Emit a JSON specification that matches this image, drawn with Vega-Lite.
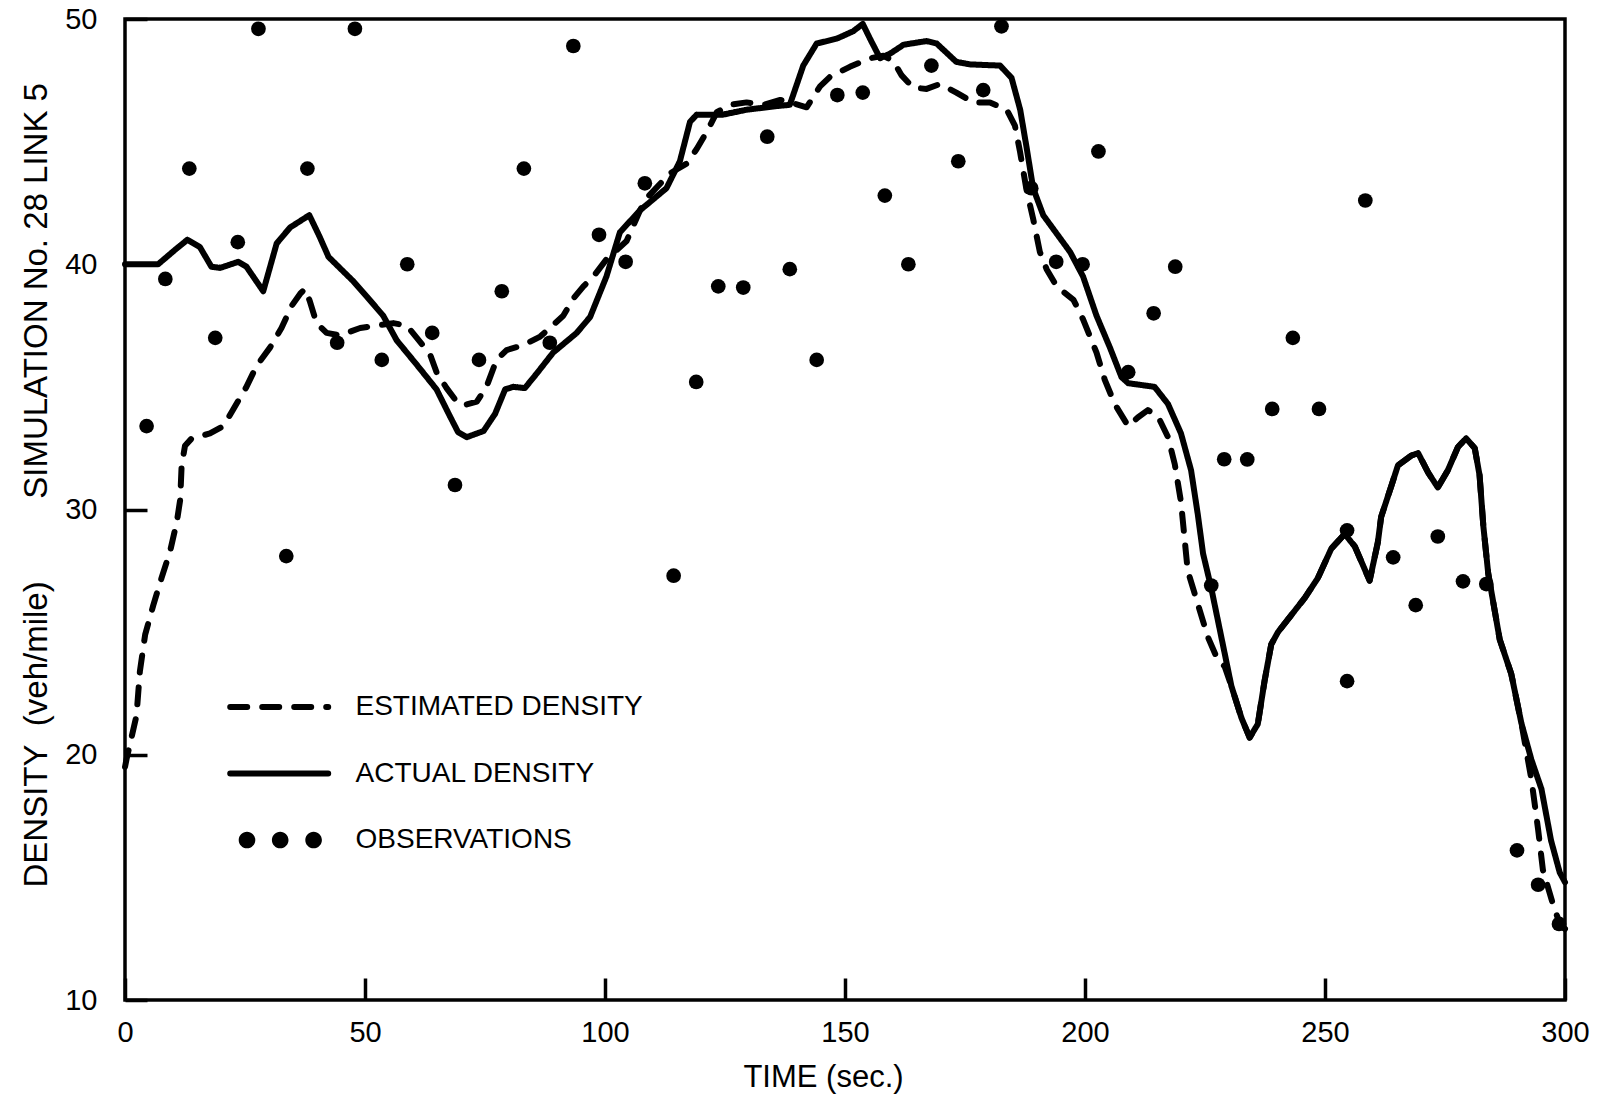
{
  "$schema": "https://vega.github.io/schema/vega-lite/v6.json",
  "width": 1440,
  "height": 981,
  "autosize": {"type": "none"},
  "padding": {"left": 125, "top": 19, "right": 33, "bottom": 96},
  "background": "white",
  "config": {
    "view": {"stroke": "black", "strokeWidth": 3.5},
    "font": "Liberation Sans",
    "axis": {
      "domain": false,
      "grid": false,
      "ticks": true,
      "tickSize": -22,
      "tickWidth": 3.5,
      "tickColor": "black",
      "labelColor": "black",
      "labelFont": "Liberation Sans",
      "labelFontSize": 29,
      "labelFlush": false,
      "labelOverlap": false,
      "titleColor": "black",
      "titleFont": "Liberation Sans",
      "titleFontWeight": "normal"
    }
  },
  "datasets": {
    "estimated": [
      {"t": 0, "v": 19.5}, {"t": 0.3, "v": 19.8}, {"t": 2.4, "v": 21.6}, {"t": 3.1, "v": 23.4}, {"t": 4.2, "v": 24.9},
      {"t": 5.9, "v": 26.1}, {"t": 7.6, "v": 27.2}, {"t": 9.4, "v": 28.3}, {"t": 10.8, "v": 29.5}, {"t": 11.5, "v": 30.4},
      {"t": 11.8, "v": 31.8}, {"t": 12.5, "v": 32.6}, {"t": 13.9, "v": 32.9}, {"t": 17.7, "v": 33.1}, {"t": 20.5, "v": 33.4},
      {"t": 22.6, "v": 34.1}, {"t": 25.3, "v": 35.0}, {"t": 27.4, "v": 35.85}, {"t": 30.2, "v": 36.6}, {"t": 32.6, "v": 37.4},
      {"t": 34.7, "v": 38.3}, {"t": 36.5, "v": 38.8}, {"t": 37.5, "v": 39.0}, {"t": 38.5, "v": 38.5}, {"t": 39.9, "v": 37.6},
      {"t": 42.0, "v": 37.2}, {"t": 44.8, "v": 37.1}, {"t": 49.0, "v": 37.4}, {"t": 52.4, "v": 37.5}, {"t": 55.9, "v": 37.6},
      {"t": 58.7, "v": 37.5}, {"t": 60.8, "v": 37.0}, {"t": 63.5, "v": 36.35}, {"t": 64.9, "v": 35.6}, {"t": 67.0, "v": 34.95},
      {"t": 69.1, "v": 34.4}, {"t": 70.5, "v": 34.25}, {"t": 73.3, "v": 34.4}, {"t": 75.3, "v": 35.0}, {"t": 77.4, "v": 36.1},
      {"t": 79.5, "v": 36.5}, {"t": 83.0, "v": 36.7}, {"t": 86.5, "v": 37.05}, {"t": 88.5, "v": 37.4}, {"t": 91.3, "v": 37.9},
      {"t": 93.4, "v": 38.6}, {"t": 95.5, "v": 39.1}, {"t": 97.6, "v": 39.5}, {"t": 100.3, "v": 40.2}, {"t": 104.5, "v": 40.95},
      {"t": 107.3, "v": 42.2}, {"t": 108.7, "v": 42.7}, {"t": 113.5, "v": 43.7}, {"t": 117.0, "v": 44.1}, {"t": 119.1, "v": 44.7},
      {"t": 121.2, "v": 45.4}, {"t": 123.3, "v": 46.2}, {"t": 126.0, "v": 46.5}, {"t": 129.5, "v": 46.6}, {"t": 133.0, "v": 46.5},
      {"t": 136.5, "v": 46.7}, {"t": 138.5, "v": 46.6}, {"t": 142.0, "v": 46.4}, {"t": 144.8, "v": 47.25}, {"t": 146.9, "v": 47.65},
      {"t": 151.0, "v": 48.05}, {"t": 155.2, "v": 48.4}, {"t": 158.0, "v": 48.5}, {"t": 160.0, "v": 48.3}, {"t": 161.8, "v": 47.7},
      {"t": 164.2, "v": 47.2}, {"t": 167.0, "v": 47.15}, {"t": 169.8, "v": 47.35}, {"t": 173.2, "v": 47.0}, {"t": 176.7, "v": 46.6},
      {"t": 180.2, "v": 46.6}, {"t": 183.7, "v": 46.3}, {"t": 185.4, "v": 45.65}, {"t": 186.5, "v": 44.55}, {"t": 187.8, "v": 43.05},
      {"t": 189.2, "v": 41.85}, {"t": 190.6, "v": 40.5}, {"t": 192.0, "v": 39.8}, {"t": 194.1, "v": 39.1}, {"t": 197.6, "v": 38.55},
      {"t": 199.6, "v": 37.75}, {"t": 202.4, "v": 36.4}, {"t": 204.1, "v": 35.3}, {"t": 206.2, "v": 34.3}, {"t": 209.0, "v": 33.4},
      {"t": 211.0, "v": 33.75}, {"t": 213.1, "v": 34.05}, {"t": 215.2, "v": 33.8}, {"t": 217.3, "v": 32.95}, {"t": 218.7, "v": 31.85},
      {"t": 220.0, "v": 30.3}, {"t": 221.4, "v": 27.5}, {"t": 223.5, "v": 26.15}, {"t": 225.6, "v": 24.8}, {"t": 227.7, "v": 23.85},
      {"t": 229.1, "v": 23.6}, {"t": 230.5, "v": 22.8}, {"t": 232.6, "v": 21.5}, {"t": 234.3, "v": 20.7}, {"t": 236.0, "v": 21.25},
      {"t": 237.4, "v": 23.0}, {"t": 238.8, "v": 24.5}, {"t": 240.2, "v": 25.0}, {"t": 245.8, "v": 26.4}, {"t": 248.5, "v": 27.2},
      {"t": 251.3, "v": 28.4}, {"t": 254.1, "v": 29.0}, {"t": 256.2, "v": 28.5}, {"t": 259.3, "v": 27.1}, {"t": 261.0, "v": 28.65},
      {"t": 261.7, "v": 29.7}, {"t": 263.8, "v": 30.95}, {"t": 265.2, "v": 31.8}, {"t": 268.0, "v": 32.2}, {"t": 269.4, "v": 32.3},
      {"t": 271.5, "v": 31.5}, {"t": 273.5, "v": 30.9}, {"t": 275.6, "v": 31.6}, {"t": 277.7, "v": 32.55}, {"t": 279.4, "v": 32.9},
      {"t": 281.2, "v": 32.5}, {"t": 282.2, "v": 31.4}, {"t": 283.0, "v": 29.3}, {"t": 284.0, "v": 27.4}, {"t": 286.4, "v": 24.7},
      {"t": 288.8, "v": 23.3}, {"t": 290.9, "v": 21.3}, {"t": 293.0, "v": 19.0}, {"t": 294.4, "v": 16.95}, {"t": 295.4, "v": 15.3},
      {"t": 297.8, "v": 13.7}, {"t": 299.2, "v": 13.0}, {"t": 300, "v": 12.9}
    ],
    "actual": [
      {"t": 0, "v": 40.0}, {"t": 6.9, "v": 40.0}, {"t": 10.5, "v": 40.6}, {"t": 13.0, "v": 41.0}, {"t": 15.6, "v": 40.7},
      {"t": 18.0, "v": 39.9}, {"t": 19.8, "v": 39.85}, {"t": 23.6, "v": 40.1}, {"t": 25.3, "v": 39.9}, {"t": 28.8, "v": 38.9},
      {"t": 31.6, "v": 40.85}, {"t": 34.4, "v": 41.5}, {"t": 38.4, "v": 42.0}, {"t": 40.6, "v": 41.1}, {"t": 42.4, "v": 40.3},
      {"t": 47.6, "v": 39.3}, {"t": 50.3, "v": 38.7}, {"t": 53.8, "v": 37.9}, {"t": 56.6, "v": 36.9}, {"t": 60.8, "v": 35.9},
      {"t": 64.9, "v": 34.9}, {"t": 67.7, "v": 33.8}, {"t": 69.4, "v": 33.15}, {"t": 71.2, "v": 32.95}, {"t": 74.7, "v": 33.2},
      {"t": 77.1, "v": 33.9}, {"t": 79.2, "v": 34.9}, {"t": 80.9, "v": 35.0}, {"t": 83.3, "v": 34.95}, {"t": 85.8, "v": 35.55},
      {"t": 89.2, "v": 36.4}, {"t": 94.1, "v": 37.2}, {"t": 96.9, "v": 37.85}, {"t": 100.3, "v": 39.5}, {"t": 103.1, "v": 41.3},
      {"t": 107.3, "v": 42.2}, {"t": 112.8, "v": 43.1}, {"t": 115.6, "v": 44.2}, {"t": 117.7, "v": 45.8}, {"t": 119.1, "v": 46.1},
      {"t": 124.6, "v": 46.1}, {"t": 129.5, "v": 46.3}, {"t": 135.8, "v": 46.45}, {"t": 138.5, "v": 46.5}, {"t": 141.3, "v": 48.1},
      {"t": 144.1, "v": 49.0}, {"t": 148.3, "v": 49.2}, {"t": 151.7, "v": 49.5}, {"t": 153.7, "v": 49.8}, {"t": 155.2, "v": 49.2},
      {"t": 157.3, "v": 48.4}, {"t": 159.5, "v": 48.6}, {"t": 162.2, "v": 48.95}, {"t": 167.0, "v": 49.1}, {"t": 169.1, "v": 49.0},
      {"t": 173.2, "v": 48.25}, {"t": 176.0, "v": 48.15}, {"t": 182.3, "v": 48.1}, {"t": 184.7, "v": 47.6}, {"t": 186.5, "v": 46.3},
      {"t": 187.8, "v": 44.8}, {"t": 189.2, "v": 43.1}, {"t": 191.3, "v": 42.0}, {"t": 196.9, "v": 40.5}, {"t": 199.6, "v": 39.5},
      {"t": 202.4, "v": 37.9}, {"t": 205.2, "v": 36.6}, {"t": 207.6, "v": 35.4}, {"t": 209.0, "v": 35.15}, {"t": 214.5, "v": 35.0},
      {"t": 217.3, "v": 34.3}, {"t": 220.0, "v": 33.1}, {"t": 222.1, "v": 31.6}, {"t": 223.5, "v": 29.8}, {"t": 224.6, "v": 28.2},
      {"t": 226.3, "v": 26.8}, {"t": 228.4, "v": 24.8}, {"t": 230.5, "v": 22.8}, {"t": 232.6, "v": 21.5}, {"t": 234.3, "v": 20.7},
      {"t": 236.0, "v": 21.25}, {"t": 237.4, "v": 23.0}, {"t": 238.8, "v": 24.5}, {"t": 240.2, "v": 25.0}, {"t": 245.8, "v": 26.4},
      {"t": 248.5, "v": 27.2}, {"t": 251.3, "v": 28.4}, {"t": 254.1, "v": 29.0}, {"t": 256.2, "v": 28.5}, {"t": 259.3, "v": 27.1},
      {"t": 261.0, "v": 28.65}, {"t": 261.7, "v": 29.7}, {"t": 263.8, "v": 30.95}, {"t": 265.2, "v": 31.8}, {"t": 268.0, "v": 32.2},
      {"t": 269.4, "v": 32.3}, {"t": 271.5, "v": 31.5}, {"t": 273.5, "v": 30.9}, {"t": 275.6, "v": 31.6}, {"t": 277.7, "v": 32.55},
      {"t": 279.4, "v": 32.9}, {"t": 281.2, "v": 32.5}, {"t": 282.2, "v": 31.4}, {"t": 283.0, "v": 29.3}, {"t": 284.0, "v": 27.4},
      {"t": 286.4, "v": 24.7}, {"t": 288.8, "v": 23.3}, {"t": 290.9, "v": 21.3}, {"t": 293.0, "v": 19.8}, {"t": 295.1, "v": 18.6},
      {"t": 297.1, "v": 16.5}, {"t": 298.9, "v": 15.2}, {"t": 300, "v": 14.8}
    ],
    "obs": [
      {"t": 4.5, "v": 33.4}, {"t": 8.4, "v": 39.4}, {"t": 13.4, "v": 43.9}, {"t": 18.8, "v": 37.0}, {"t": 23.5, "v": 40.9},
      {"t": 27.8, "v": 49.6}, {"t": 33.6, "v": 28.1}, {"t": 38.0, "v": 43.9}, {"t": 44.2, "v": 36.8}, {"t": 47.9, "v": 49.6},
      {"t": 53.5, "v": 36.1}, {"t": 58.8, "v": 40.0}, {"t": 64.0, "v": 37.2}, {"t": 68.75, "v": 31.0}, {"t": 73.75, "v": 36.1},
      {"t": 78.5, "v": 38.9}, {"t": 83.1, "v": 43.9}, {"t": 88.5, "v": 36.8}, {"t": 93.4, "v": 48.9}, {"t": 98.75, "v": 41.2},
      {"t": 104.3, "v": 40.1}, {"t": 108.3, "v": 43.3}, {"t": 114.3, "v": 27.3}, {"t": 119.0, "v": 35.2}, {"t": 123.6, "v": 39.1},
      {"t": 128.8, "v": 39.05}, {"t": 133.8, "v": 45.2}, {"t": 138.5, "v": 39.8}, {"t": 144.1, "v": 36.1}, {"t": 148.4, "v": 46.9},
      {"t": 153.7, "v": 47.0}, {"t": 158.3, "v": 42.8}, {"t": 163.2, "v": 40.0}, {"t": 168.0, "v": 48.1}, {"t": 173.6, "v": 44.2},
      {"t": 178.8, "v": 47.1}, {"t": 182.6, "v": 49.7}, {"t": 188.8, "v": 43.1}, {"t": 194.0, "v": 40.1}, {"t": 199.5, "v": 40.0},
      {"t": 202.8, "v": 44.6}, {"t": 209.0, "v": 35.6}, {"t": 214.3, "v": 38.0}, {"t": 218.8, "v": 39.9}, {"t": 226.3, "v": 26.9},
      {"t": 229.0, "v": 32.05}, {"t": 233.8, "v": 32.04}, {"t": 239.0, "v": 34.1}, {"t": 243.3, "v": 37.0}, {"t": 248.75, "v": 34.1},
      {"t": 254.6, "v": 29.15}, {"t": 254.6, "v": 23.0}, {"t": 258.4, "v": 42.6}, {"t": 264.2, "v": 28.05}, {"t": 268.9, "v": 26.1},
      {"t": 273.5, "v": 28.9}, {"t": 278.75, "v": 27.07}, {"t": 283.6, "v": 26.96}, {"t": 290.0, "v": 16.1}, {"t": 294.4, "v": 14.7},
      {"t": 298.75, "v": 13.1}
    ]
  },
  "layer": [
    {
      "data": {"name": "estimated"},
      "mark": {"type": "line", "color": "black", "strokeWidth": 6, "strokeCap": "round", "strokeJoin": "round"},
      "encoding": {
        "x": {
          "field": "t", "type": "quantitative",
          "scale": {"domain": [0, 300], "nice": false, "zero": false},
          "axis": {
            "values": [0, 50, 100, 150, 200, 250, 300],
            "format": "d",
            "labelPadding": 40,
            "title": "TIME (sec.)",
            "titleFontSize": 31,
            "titleX": 698,
            "titleY": 77,
            "titleAlign": "center",
            "titleBaseline": "middle"
          }
        },
        "y": {
          "field": "v", "type": "quantitative",
          "scale": {"domain": [10, 50], "nice": false, "zero": false},
          "axis": {
            "values": [10, 20, 30, 40, 50],
            "format": "d",
            "labelPadding": 50,
            "title": "DENSITY\u00a0\u00a0(veh/mile)\u00a0\u00a0\u00a0\u00a0\u00a0\u00a0\u00a0\u00a0\u00a0SIMULATION No. 28 LINK 5",
            "titleFontSize": 33,
            "titleAngle": 270,
            "titleX": -89,
            "titleY": 868,
            "titleAlign": "left",
            "titleBaseline": "middle"
          }
        },
        "strokeDash": {
          "datum": "ESTIMATED DENSITY",
          "type": "nominal",
          "scale": {
            "domain": ["ESTIMATED DENSITY", "ACTUAL DENSITY", "OBSERVATIONS"],
            "range": [[17, 15], [1, 0], [1, 0]]
          },
          "legend": {
            "orient": "none",
            "legendX": 102,
            "legendY": 665,
            "direction": "vertical",
            "title": null,
            "padding": 0,
            "symbolSize": 1600,
            "symbolStrokeWidth": 6,
            "symbolStrokeColor": "black",
            "labelFont": "Liberation Sans",
            "labelFontSize": 28,
            "labelColor": "black",
            "labelOffset": 82.5,
            "labelLimit": 600,
            "rowPadding": 29.5,
            "encode": {
              "symbols": {
                "update": {
                  "shape": [
                    {"test": "datum.value === 'OBSERVATIONS'", "value": "M-0.565,0A0.415,0.415,0,1,0,0.265,0A0.415,0.415,0,1,0,-0.565,0ZM1.095,0A0.415,0.415,0,1,0,1.925,0A0.415,0.415,0,1,0,1.095,0ZM2.765,0A0.415,0.415,0,1,0,3.595,0A0.415,0.415,0,1,0,2.765,0Z"},
                    {"value": "M-0.99,0L3.91,0"}
                  ],
                  "fill": [
                    {"test": "datum.value === 'OBSERVATIONS'", "value": "black"},
                    {"value": "transparent"}
                  ],
                  "stroke": [
                    {"test": "datum.value === 'OBSERVATIONS'", "value": "transparent"},
                    {"value": "black"}
                  ],
                  "strokeWidth": {"value": 6},
                  "strokeCap": {"value": "round"},
                  "opacity": {"value": 1}
                }
              }
            }
          }
        }
      }
    },
    {
      "data": {"name": "actual"},
      "mark": {"type": "line", "color": "black", "strokeWidth": 6, "strokeCap": "round", "strokeJoin": "round"},
      "encoding": {
        "x": {"field": "t", "type": "quantitative"},
        "y": {"field": "v", "type": "quantitative"},
        "strokeDash": {"datum": "ACTUAL DENSITY", "type": "nominal"}
      }
    },
    {
      "data": {"name": "obs"},
      "mark": {"type": "circle", "color": "black", "size": 216, "opacity": 1},
      "encoding": {
        "x": {"field": "t", "type": "quantitative"},
        "y": {"field": "v", "type": "quantitative"}
      }
    }
  ]
}
